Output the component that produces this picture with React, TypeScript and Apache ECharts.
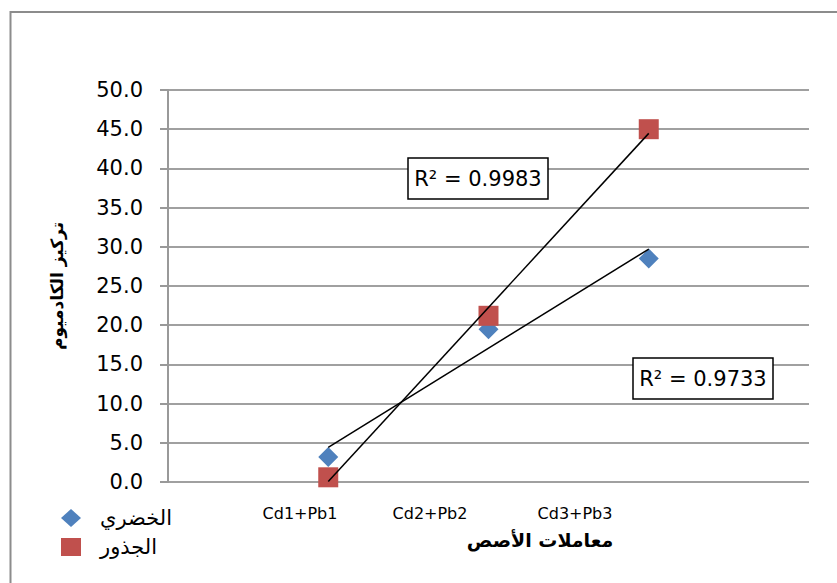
import React, { useEffect, useRef } from "react";
import * as echarts from "echarts";

// Treatments (x positions 1..3 on a 0..4 value axis)
const categories = ["Cd1+Pb1", "Cd2+Pb2", "Cd3+Pb3"];
const categoryX = [1, 2, 3];

// Cadmium concentration
const shootValues = [3.2, 19.48, 28.5]; // الخضري
const rootValues = [0.6, 21.2, 45.0]; // الجذور

const seriesNames = ["الخضري", "الجذور"];
const yAxisTitle = "تركيز الكادميوم";
const xAxisTitle = "معاملات الأصص";

const FONT = "DejaVu Sans";

function linearFit(xs: number[], ys: number[]) {
  const n = xs.length;
  const mx = xs.reduce((a, b) => a + b, 0) / n;
  const my = ys.reduce((a, b) => a + b, 0) / n;
  let sxy = 0;
  let sxx = 0;
  for (let i = 0; i < n; i++) {
    sxy += (xs[i] - mx) * (ys[i] - my);
    sxx += (xs[i] - mx) * (xs[i] - mx);
  }
  const slope = sxy / sxx;
  const intercept = my - slope * mx;
  const f = (x: number) => intercept + slope * x;
  let ssRes = 0;
  let ssTot = 0;
  for (let i = 0; i < n; i++) {
    ssRes += (ys[i] - f(xs[i])) ** 2;
    ssTot += (ys[i] - my) ** 2;
  }
  return { f, r2: 1 - ssRes / ssTot };
}

export default function App() {
  const ref = useRef<HTMLDivElement>(null);

  useEffect(() => {
    if (!ref.current) return;
    const chart = echarts.init(ref.current, null, { renderer: "svg" });

    const shootFit = linearFit(categoryX, shootValues);
    const rootFit = linearFit(categoryX, rootValues);
    const x0 = categoryX[0];
    const x1 = categoryX[categoryX.length - 1];

    // horizontal centres of the treatment labels under the plot
    const labelX = [300, 430, 575];

    // boxed R² label of a trend line
    const r2Box = (x: number, y: number, r2: number) => [
      {
        type: "rect",
        z: 10,
        shape: { x, y, width: 140, height: 41 },
        style: { fill: "#fff", stroke: "#000", lineWidth: 1.5 },
      },
      {
        type: "text",
        z: 11,
        x: x + 70,
        y: y + 21,
        style: {
          text: "R² = " + r2.toFixed(4),
          font: `21px "${FONT}"`,
          fill: "#000",
          align: "center",
          verticalAlign: "middle",
        },
      },
    ];

    chart.setOption({
      animation: false,
      backgroundColor: "#fff",
      grid: { left: 168, right: 28, top: 90, bottom: 101 },
      xAxis: {
        type: "value",
        min: 0,
        max: 4,
        interval: 1,
        axisLine: { show: false },
        axisTick: { show: false },
        axisLabel: { show: false },
        splitLine: { show: false },
      },
      yAxis: {
        type: "value",
        min: 0,
        max: 50,
        interval: 5,
        name: yAxisTitle,
        nameLocation: "middle",
        nameRotate: 90,
        nameGap: 103,
        nameTextStyle: {
          fontFamily: FONT,
          fontWeight: "bold",
          fontSize: 17,
          color: "#000",
        },
        axisLine: { show: true, lineStyle: { color: "#999", width: 2 } },
        axisTick: {
          show: true,
          inside: false,
          length: 8,
          lineStyle: { color: "#999", width: 2 },
        },
        axisLabel: {
          formatter: (v: number) => v.toFixed(1),
          fontFamily: FONT,
          fontSize: 21,
          color: "#000",
          margin: 25,
        },
        splitLine: { show: true, lineStyle: { color: "#a0a0a0", width: 2 } },
      },
      legend: {
        orient: "vertical",
        left: 56,
        top: 502,
        itemWidth: 20,
        itemHeight: 18,
        itemGap: 7,
        data: [
          { name: seriesNames[0], icon: "diamond" },
          { name: seriesNames[1], icon: "rect" },
        ],
        textStyle: {
          fontFamily: FONT,
          fontSize: 21,
          color: "#000",
          lineHeight: 22,
          padding: [0, 0, 0, 14],
        },
      },
      series: [
        {
          name: seriesNames[0],
          type: "scatter",
          symbol: "diamond",
          symbolSize: 20,
          itemStyle: { color: "#4F81BD", opacity: 1 },
          data: categoryX.map((x, i) => [x, shootValues[i]]),
          z: 2,
        },
        {
          name: seriesNames[1],
          type: "scatter",
          symbol: "rect",
          symbolSize: 20,
          itemStyle: { color: "#C0504D", opacity: 1 },
          data: categoryX.map((x, i) => [x, rootValues[i]]),
          z: 2,
        },
        {
          name: "trend-shoot",
          type: "line",
          symbol: "none",
          silent: true,
          lineStyle: { color: "#000", width: 1.5 },
          data: [
            [x0, shootFit.f(x0)],
            [x1, shootFit.f(x1)],
          ],
          z: 3,
        },
        {
          name: "trend-root",
          type: "line",
          symbol: "none",
          silent: true,
          lineStyle: { color: "#000", width: 1.5 },
          data: [
            [x0, rootFit.f(x0)],
            [x1, rootFit.f(x1)],
          ],
          z: 3,
        },
      ],
      graphic: [
        {
          type: "rect",
          shape: { x: 10.5, y: 12, width: 900, height: 700 },
          style: { fill: "none", stroke: "#8c8c8c", lineWidth: 2 },
          silent: true,
        },
        ...categories.map((c, i) => ({
          type: "text",
          x: labelX[i],
          y: 513,
          style: {
            text: c,
            font: `16px "${FONT}"`,
            fill: "#000",
            align: "center",
            verticalAlign: "middle",
          },
        })),
        {
          type: "text",
          x: 540,
          y: 540,
          style: {
            text: xAxisTitle,
            font: `bold 19px "${FONT}"`,
            fill: "#000",
            align: "center",
            verticalAlign: "middle",
          },
        },
        ...r2Box(408, 158, rootFit.r2),
        ...r2Box(633, 358, shootFit.r2),
      ],
    });

    return () => chart.dispose();
  }, []);

  return (
    <div
      ref={ref}
      style={{ position: "fixed", left: 0, top: 0, width: 837, height: 583 }}
    />
  );
}
